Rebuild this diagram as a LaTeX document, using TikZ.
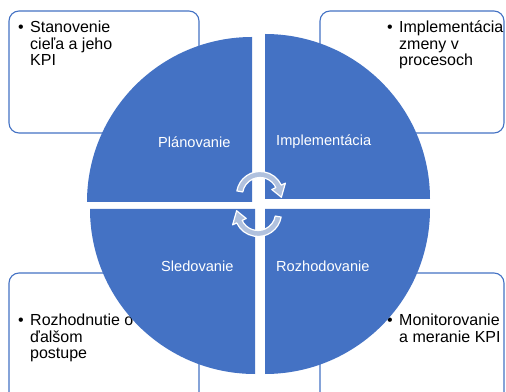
\documentclass[tikz,border=0pt]{standalone}
\usepackage{fontspec}
\setmainfont{Liberation Sans}
\definecolor{pieblue}{HTML}{4472C4}
\definecolor{arrowfill}{RGB}{176,193,222}
\begin{document}
\begin{tikzpicture}[x=1pt,y=1pt,
  infobox/.style={draw=pieblue,line width=1.1pt,rounded corners=10pt,fill=white},
  boxtext/.style={anchor=base west,inner sep=0pt,font=\fontsize{16}{16.5}\selectfont,text=black},
  pielabel/.style={anchor=base west,inner sep=0pt,font=\fontsize{14.6}{17}\selectfont,text=white},
  quarter/.style={fill=pieblue,draw=none},
  arcarrow/.style={fill=arrowfill,draw=white,line width=1.2pt,line join=round}]
\useasboundingbox (0,0) rectangle (506,391);
% boxes
\draw[infobox] (9,258) rectangle (199,380);
\draw[infobox] (320,258) rectangle (504,380);
\draw[infobox] (9,-12) rectangle (199,118);
\draw[infobox] (320,-12) rectangle (504,118);
% box texts
\node[boxtext] (b1) at (18,358) {•};
\node[boxtext] (t1a) at (30,358) {Stanovenie};
\node[boxtext] (t1b) at (30,341.5) {cieľa a jeho};
\node[boxtext] (t1c) at (30,325) {KPI};
\node[boxtext] (b2) at (387,358) {•};
\node[boxtext] (t2a) at (399,358) {Implementácia};
\node[boxtext] (t2b) at (399,341.5) {zmeny v};
\node[boxtext] (t2c) at (399,325.5) {procesoch};
\node[boxtext] (b3) at (18,65) {•};
\node[boxtext] (t3a) at (30,65) {Rozhodnutie o};
\node[boxtext] (t3b) at (30,48.5) {ďalšom};
\node[boxtext] (t3c) at (30,32) {postupe};
\node[boxtext] (b4) at (387,65) {•};
\node[boxtext] (t4a) at (399,65) {Monitorovanie};
\node[boxtext] (t4b) at (399,48.5) {a meranie KPI};
% quarters
\fill[quarter] (252,189) -- ++(-165,0) arc[start angle=180,end angle=90,radius=165] -- cycle;
\fill[quarter] (265,192) -- ++(0,165) arc[start angle=90,end angle=0,radius=165] -- cycle;
\fill[quarter] (255,182) -- ++(-165,0) arc[start angle=180,end angle=270,radius=165] -- cycle;
\fill[quarter] (265,182) -- ++(165,0) arc[start angle=0,end angle=-90,radius=165] -- cycle;
% labels
\node[pielabel] (l1) at (158,243) {Plánovanie};
\node[pielabel] (l2) at (276,245) {Implementácia};
\node[pielabel] (l3) at (161,119) {Sledovanie};
\node[pielabel] (l4) at (276,119) {Rozhodovanie};
% center arrows
\coordinate (cu) at (260,196);
\coordinate (cl) at (258,178);
\path[arcarrow] ([shift={(cu)}]170:23.5) arc[start angle=170,end angle=25,radius=23.5]
  -- ([shift={(cu)}]25:28) -- ([shift={(cu)}]-6:21.5) -- ([shift={(cu)}]25:13)
  -- ([shift={(cu)}]25:17.5) arc[start angle=25,end angle=170,radius=17.5] -- cycle;
\path[arcarrow] ([shift={(cl)}]-10:23.5) arc[start angle=-10,end angle=-155,radius=23.5]
  -- ([shift={(cl)}]-155:28) -- ([shift={(cl)}]-186:21.5) -- ([shift={(cl)}]-155:13)
  -- ([shift={(cl)}]-155:17.5) arc[start angle=-155,end angle=-10,radius=17.5] -- cycle;
\end{tikzpicture}
\end{document}
